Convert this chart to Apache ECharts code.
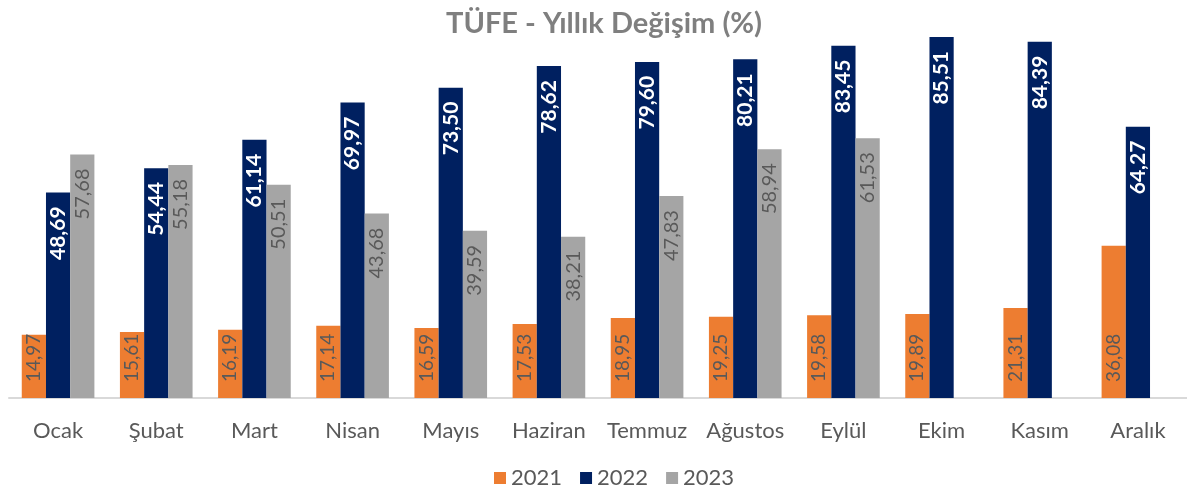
<!DOCTYPE html>
<html>
<head>
<meta charset="utf-8">
<script src="https://cdn.jsdelivr.net/npm/echarts@6/dist/echarts.min.js"></script>
<style>
  html, body { margin: 0; padding: 0; background: #fff; }
  #chart { width: 1187px; height: 496px; }
</style>
</head>
<body>
<div id="chart"></div>
<script>
// aylar ve yıllık değişim verileri
var months = ['Ocak', 'Şubat', 'Mart', 'Nisan', 'Mayıs', 'Haziran', 'Temmuz', 'Ağustos', 'Eylül', 'Ekim', 'Kasım', 'Aralık'];
var y2021 = [14.97, 15.61, 16.19, 17.14, 16.59, 17.53, 18.95, 19.25, 19.58, 19.89, 21.31, 36.08];
var y2022 = [48.69, 54.44, 61.14, 69.97, 73.50, 78.62, 79.60, 80.21, 83.45, 85.51, 84.39, 64.27];
var y2023 = [57.68, 55.18, 50.51, 43.68, 39.59, 38.21, 47.83, 58.94, 61.53, null, null, null];

var font = 'Lato, "Open Sans", sans-serif';

function fmt(p) {
  return p.value == null ? '' : p.value.toFixed(2).replace('.', ',');
}

var chart = echarts.init(document.getElementById('chart'));

chart.setOption({
  animation: false,
  title: {
    text: 'TÜFE - Yıllık Değişim (%)',
    left: 441,
    top: 4,
    textStyle: { color: '#7f7f7f', fontSize: 29, fontWeight: 'bold', fontFamily: font }
  },
  legend: {
    left: 489,
    bottom: 2,
    itemWidth: 12,
    itemHeight: 12,
    itemGap: 18,
    icon: 'rect',
    textStyle: { color: '#595959', fontSize: 22, fontFamily: font }
  },
  grid: { left: 9, right: 0, top: 18, bottom: 98 },
  xAxis: {
    type: 'category',
    data: months,
    axisLine: { lineStyle: { color: '#d9d9d9', width: 2 } },
    axisTick: { show: false },
    axisLabel: { interval: 0, color: '#595959', fontSize: 22, margin: 22, fontFamily: font }
  },
  yAxis: {
    type: 'value',
    min: 0,
    max: 90,
    show: false,
    splitLine: { show: false }
  },
  series: [
    {
      name: '2021',
      type: 'bar',
      data: y2021,
      barGap: '0%',
      barCategoryGap: '26%',
      itemStyle: { color: '#ED7D31' },
      label: {
        show: true, position: 'insideBottom', rotate: 90, align: 'left', verticalAlign: 'middle',
        offset: [11, 0], color: '#595959', fontSize: 19, fontFamily: font, formatter: fmt
      }
    },
    {
      name: '2022',
      type: 'bar',
      data: y2022,
      itemStyle: { color: '#002060' },
      label: {
        show: true, position: 'insideTop', rotate: 90, align: 'right', verticalAlign: 'middle',
        offset: [-9, 0], color: '#fff', fontSize: 21, fontWeight: 'bold', fontFamily: font, formatter: fmt
      }
    },
    {
      name: '2023',
      type: 'bar',
      data: y2023,
      itemStyle: { color: '#A5A5A5' },
      label: {
        show: true, position: 'insideTop', rotate: 90, align: 'right', verticalAlign: 'middle',
        offset: [-9, 0], color: '#595959', fontSize: 20, fontFamily: font, formatter: fmt
      }
    }
  ]
});
</script>
</body>
</html>
